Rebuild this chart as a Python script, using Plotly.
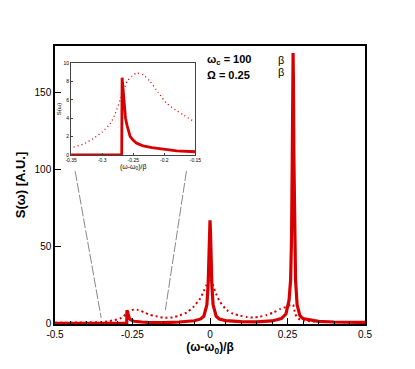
import plotly.graph_objects as go

# solid curve
x_solid = [-0.5, -0.4, -0.3, -0.2686, -0.268, -0.2665, -0.265, -0.2625, -0.26, -0.2575,
           -0.255, -0.25, -0.245, -0.24, -0.234, -0.22, -0.2, -0.18, -0.15, -0.1,
           -0.05, -0.03, -0.02, -0.01, -0.006, -0.003, -0.0015, 0.0, 0.0015, 0.003,
           0.006, 0.01, 0.02, 0.03, 0.05, 0.1, 0.15, 0.2, 0.23, 0.245,
           0.255, 0.26, 0.263, 0.2655, 0.267, 0.268, 0.269, 0.2705, 0.273, 0.276,
           0.281, 0.29, 0.3, 0.35, 0.4, 0.5]
y_solid = [0.0, 0.0, 0.0, 0.0, 8.4, 7.0, 5.5, 4.0, 3.2, 2.5,
           2.0, 1.6, 1.3, 1.15, 1.0, 0.8, 0.6, 0.45, 0.35, 0.8,
           1.6, 2.8, 4.5, 12, 25, 46, 60, 67, 60, 46,
           25, 12, 4.5, 2.8, 1.7, 1.0, 0.9, 1.5, 3.0, 6.0,
           15, 28, 55, 110, 160, 176, 160, 110, 55, 28,
           12, 5, 3, 1.2, 0.8, 0.5]

# dotted curve
x_dot = [-0.5, -0.45, -0.4, -0.35, -0.33, -0.314, -0.3, -0.287, -0.279, -0.271,
         -0.265, -0.26, -0.252, -0.244, -0.234, -0.223, -0.21, -0.196, -0.182, -0.169,
         -0.15, -0.12, -0.1, -0.075, -0.055, -0.032, -0.02, -0.011, 0.0, 0.011,
         0.02, 0.032, 0.054, 0.075, 0.097, 0.12, 0.14, 0.16, 0.183, 0.205,
         0.227, 0.248, 0.26, 0.268, 0.275, 0.285, 0.3, 0.35, 0.4, 0.5]
y_dot = [0.3, 0.4, 0.6, 0.8, 1.2, 1.8, 2.5, 3.4, 4.5, 6.0,
         7.1, 8.0, 8.6, 8.9, 8.7, 8.0, 6.8, 5.6, 4.9, 4.35,
         3.6, 3.8, 5.0, 7.0, 10.3, 16, 21, 25, 29, 24,
         19, 14, 8.6, 6.2, 5.0, 4.0, 3.7, 4.2, 5.4, 7.0,
         9.3, 10.8, 12, 12, 6, 3, 1.8, 1.0, 0.7, 0.4]

red = "rgb(215,0,0)"
font = "Liberation Sans, Arial, sans-serif"

fig = go.Figure()
fig.add_trace(go.Scatter(x=x_dot, y=y_dot, mode="lines",
                         line=dict(color=red, width=2, dash="2px,3px", shape="spline", smoothing=0.6)))
fig.add_trace(go.Scatter(x=x_solid, y=y_solid, mode="lines",
                         line=dict(color=red, width=3.2)))
# inset
fig.add_trace(go.Scatter(x=x_dot, y=y_dot, mode="lines", xaxis="x2", yaxis="y2",
                         line=dict(color=red, width=1.3, dash="1px,3px", shape="spline", smoothing=0.6)))
fig.add_trace(go.Scatter(x=x_solid, y=y_solid, mode="lines", xaxis="x2", yaxis="y2",
                         line=dict(color=red, width=2.8)))

fig.update_layout(
    width=415, height=369,
    margin=dict(l=47, r=58, t=38, b=53),
    paper_bgcolor="white", plot_bgcolor="white",
    showlegend=False,
    font=dict(family=font, size=10, color="black"),
    xaxis=dict(range=[-0.5, 0.5], tickvals=[-0.5, -0.25, 0, 0.25, 0.5],
               ticktext=["-0.5", "-0.25", "0", "0.25", "0.5"],
               ticks="inside", ticklen=6, tickcolor="black",
               minor=dict(dtick=0.05, ticks="inside", ticklen=3, tickcolor="black"),
               showline=True, linecolor="black", linewidth=1.5, mirror=True,
               showgrid=False, zeroline=False,
               title=dict(text="<b>(ω-ω<sub>0</sub>)/β</b>", font=dict(size=12), standoff=4)),
    yaxis=dict(range=[-0.5, 180.5], tickvals=[0, 50, 100, 150],
               ticks="inside", ticklen=6, tickcolor="black",
               showline=True, linecolor="black", linewidth=1.5, mirror=True,
               showgrid=False, zeroline=False,
               title=dict(text="<b>S(ω) [A.U.]</b>", font=dict(size=13), standoff=6)),
    xaxis2=dict(domain=[0.052, 0.453], anchor="y2", range=[-0.35, -0.15],
                tickvals=[-0.35, -0.3, -0.25, -0.2, -0.15],
                ticktext=["-0.35", "-0.3", "-0.25", "-0.2", "-0.15"],
                ticks="inside", ticklen=2, tickfont=dict(size=5),
                showline=True, linecolor="#444", linewidth=1, mirror=True,
                showgrid=False, zeroline=False,
                title=dict(text="(ω-ω<sub>0</sub>)/β", font=dict(size=7), standoff=1)),
    yaxis2=dict(domain=[0.608, 0.939], anchor="x2", range=[0, 10],
                tickvals=[0, 2, 4, 6, 8, 10],
                ticks="inside", ticklen=2, tickfont=dict(size=5),
                showline=True, linecolor="#444", linewidth=1, mirror=True,
                showgrid=False, zeroline=False,
                title=dict(text="S(ω)", font=dict(size=6), standoff=1)),
)

# guide lines from the inset down to the main axis
for x0, y0, x1, y1 in [(0.065, 0.55, 0.149, 0.022), (0.424, 0.55, 0.356, 0.05)]:
    fig.add_shape(type="line", xref="paper", yref="paper", x0=x0, y0=y0, x1=x1, y1=y1,
                  line=dict(color="#888", width=1, dash="10px,2px"))

fig.add_annotation(xref="paper", yref="paper", x=0.485, y=0.95, xanchor="left", yanchor="middle",
                   text="<b>ω<sub>c</sub> = 100</b>", showarrow=False, font=dict(size=11))
fig.add_annotation(xref="paper", yref="paper", x=0.485, y=0.895, xanchor="left", yanchor="middle",
                   text="<b>Ω = 0.25</b>", showarrow=False, font=dict(size=11))
fig.add_annotation(xref="paper", yref="paper", x=0.712, y=0.948, xanchor="left", yanchor="middle",
                   text="β", showarrow=False, font=dict(size=11, color="black"))
fig.add_annotation(xref="paper", yref="paper", x=0.712, y=0.905, xanchor="left", yanchor="middle",
                   text="β", showarrow=False, font=dict(size=11, color="black"))

fig.write_html("out.html")
